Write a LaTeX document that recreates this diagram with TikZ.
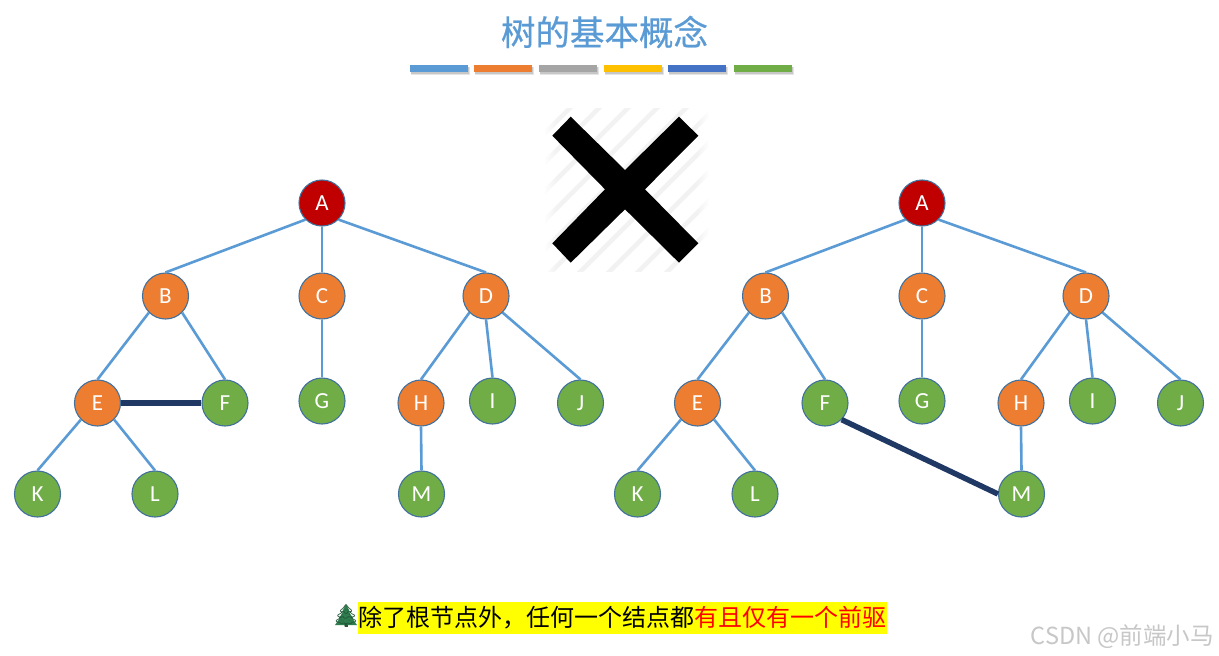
\documentclass[tikz,border=0pt]{standalone}
\usepackage{fontspec}
\setmainfont{Carlito}
\newfontfamily\cjk{Noto Sans CJK SC}
\newfontfamily\cjkheavy[FakeBold=0.6]{Noto Sans CJK SC}
\newfontfamily\emojifont{Noto Emoji}
\usetikzlibrary{fadings}
\definecolor{cblue}{HTML}{5B9BD5}
\definecolor{corange}{HTML}{ED7D31}
\definecolor{cgray}{HTML}{A5A5A5}
\definecolor{cgold}{HTML}{FFC000}
\definecolor{cdblue}{HTML}{4472C4}
\definecolor{cgreen}{HTML}{70AD47}
\definecolor{cred}{HTML}{C00000}
\definecolor{cedge}{HTML}{41719C}
\definecolor{cnavy}{HTML}{1F3864}
\definecolor{cyellow}{HTML}{FFFF00}
\definecolor{cpine}{HTML}{2F7D4F}
\definecolor{ctrunk}{HTML}{6B3E1E}
\tikzfading[name=edgefadeL,left color=transparent!0,right color=transparent!100]
\tikzfading[name=edgefadeR,left color=transparent!100,right color=transparent!0]
\tikzset{
  treenode/.style={circle,draw=cedge,line width=1.1pt,minimum size=46pt,inner sep=0pt,text=white,font=\fontsize{23}{25}\selectfont},
  rootnode/.style={treenode,fill=cred},
  midnode/.style={treenode,fill=corange},
  leafnode/.style={treenode,fill=cgreen},
  treeedge/.style={draw=cblue,line width=2.6pt},
  badedge/.style={draw=cnavy,line width=5.5pt},
  colorbar/.style={minimum width=58pt,minimum height=7pt,inner sep=0pt,draw=none},
  hatchline/.style={draw=black!5,line width=4.5pt},
}
\newcommand{\buildtree}[2]{%
  \begin{scope}[xshift=#2pt]
    \node[rootnode] (#1A) at (322,203) {A};
    \node[midnode]  (#1B) at (165.5,296) {B};
    \node[midnode]  (#1C) at (322,296) {C};
    \node[midnode]  (#1D) at (486,296) {D};
    \node[midnode]  (#1E) at (97.5,403) {E};
    \node[leafnode] (#1F) at (225,403) {F};
    \node[leafnode] (#1G) at (322,401) {G};
    \node[midnode]  (#1H) at (421,403) {H};
    \node[leafnode] (#1I) at (492.5,401) {I};
    \node[leafnode] (#1J) at (580.5,403) {J};
    \node[leafnode] (#1K) at (37.5,494) {K};
    \node[leafnode] (#1L) at (155,494) {L};
    \node[leafnode] (#1M) at (421.5,494) {M};
    \draw[treeedge] (#1A.south) -- (#1C.north);
    \draw[treeedge] (#1C.south) -- (#1G.north);
    \draw[treeedge] (#1D.south) -- (#1I.north);
    \draw[treeedge] (#1H.south) -- (#1M.north);
    \foreach \p/\c in {A/B,B/E,D/H,E/K}
      \draw[treeedge] (#1\p.south west) -- (#1\c.north);
    \foreach \p/\c in {A/D,B/F,D/J,E/L}
      \draw[treeedge] (#1\p.south east) -- (#1\c.north);
  \end{scope}}
\begin{document}
\begin{tikzpicture}[x=1pt,y=-1pt]
\useasboundingbox (0,0) rectangle (1219,656);
\fill[white] (0,0) rectangle (1219,656);
% title
\node[text=cblue,inner sep=0pt,font=\cjkheavy\fontsize{34.5}{36}\selectfont] (title) at (604.5,32) {树的基本概念};
% colour bars
\foreach \n/\cx/\col in {a/439/cblue,b/503/corange,c/568/cgray,d/633/cgold,e/697/cdblue,f/763/cgreen}{
  \fill[black!10] (\cx-28.5,67) rectangle (\cx+31,75);
  \fill[black!22] (\cx-28,67) rectangle (\cx+30,73.5);
  \node[colorbar,fill=\col] (bar\n) at (\cx,68.5) {};
}
% cross with hatching
\begin{scope}
  \clip (545,108) rectangle (708,272);
  \foreach \k in {0,...,11}
    \draw[hatchline] (\k*29+520,100) -- (\k*29+330,290);
\end{scope}
\fill[white,path fading=edgefadeL] (543,106) rectangle (557,274);
\fill[white,path fading=edgefadeR] (696,106) rectangle (710,274);
\fill[white] (543,104) rectangle (710,108);
\fill[white] (543,272) rectangle (710,276);
\fill[black] (570.7,116.7) -- (625,170) -- (679,116.7) -- (698.3,135.7) -- (645,189.3) -- (698.3,243.3)
  -- (679,262.7) -- (625,209.3) -- (570.7,262.7) -- (552.3,243.3) -- (605,189.3) -- (552.3,135.7) -- cycle;
% trees
\buildtree{l}{0}
\buildtree{r}{600}
\draw[badedge] (lE.east) -- (lF.west);
\draw[badedge] (rF.south east) -- (rM.west);
% caption
\node[fill=cyellow,inner sep=0pt,minimum width=529pt,minimum height=32pt,font=\cjk\fontsize{24}{26}\selectfont] (caption) at (622.5,617.5)
  {除了根节点外，任何一个结点都\textcolor{red}{有且仅有一个前驱}};
\fill[ctrunk] (344.5,622) rectangle (347.5,627);
\fill[cpine] (346,604) -- (350,612) -- (349,612) -- (353,618) -- (352,618) -- (357,625) -- (335,625) -- (340,618) -- (339,618) -- (343,612) -- (342,612) -- cycle;
\node[text=cpine!70!black,inner sep=0pt,font=\emojifont\fontsize{22}{24}\selectfont] (tree) at (346,616) {🌲};
% watermark
\node[text=black!22,anchor=east,inner sep=0pt,font=\cjk\fontsize{23.5}{25}\selectfont] (mark) at (1214,637) {CSDN @前端小马};
\end{tikzpicture}
\end{document}
